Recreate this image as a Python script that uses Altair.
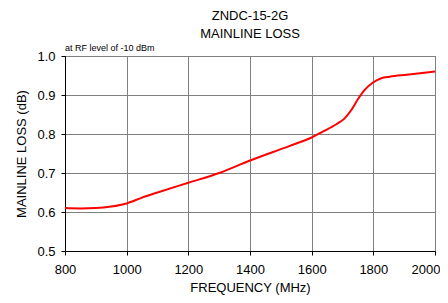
import altair as alt
import pandas as pd

freq = [800, 850, 900, 950, 1000, 1050, 1100, 1200, 1300, 1400, 1527, 1600,
        1636, 1680, 1707, 1728, 1750, 1772, 1799, 1826, 1853, 1908, 2000]
loss = [0.610, 0.609, 0.610, 0.614, 0.622, 0.637, 0.650, 0.675, 0.700, 0.732,
        0.769, 0.791, 0.806, 0.825, 0.840, 0.861, 0.889, 0.913, 0.932, 0.943,
        0.947, 0.952, 0.960]

title_lines = ["ZNDC-15-2G", "MAINLINE LOSS"]
note = "at RF level of -10 dBm"
x_ticks = [800, 1000, 1200, 1400, 1600, 1800, 2000]
y_ticks = [0.5, 0.6, 0.7, 0.8, 0.9, 1.0]

df = pd.DataFrame({"freq": freq, "loss": loss})
FONT = "Liberation Sans"

line = alt.Chart(df).mark_line(color="#ff0000", strokeWidth=2, interpolate="monotone").encode(
    x=alt.X("freq:Q", scale=alt.Scale(domain=[800, 2000], nice=False),
            axis=alt.Axis(values=x_ticks, title="FREQUENCY (MHz)", format="d",
                          labelPadding=8, titlePadding=5, labelFlush=False,
                          labelOverlap=False,
                          labelAlign=alt.ExprRef(expr="datum.value == 2000 ? 'right' : 'center'"),
                          labelOffset=alt.ExprRef(expr="datum.value == 2000 ? 5 : 0"))),
    y=alt.Y("loss:Q", scale=alt.Scale(domain=[0.5, 1.0], nice=False, zero=False),
            axis=alt.Axis(values=y_ticks, title="MAINLINE LOSS (dB)", format=".1f",
                          labelPadding=6, titlePadding=8)),
)

label = alt.Chart(pd.DataFrame({"t": [note]})).mark_text(
    align="left", baseline="bottom", fontSize=9, font=FONT, color="#000"
).encode(x=alt.value(0), y=alt.value(-3), text="t:N")

chart = alt.layer(line, label).properties(
    width=370, height=195,
    title=alt.TitleParams(text=title_lines, anchor="middle", fontSize=13, font=FONT,
                          fontWeight="normal", color="#000", offset=3, lineHeight=18),
    autosize=alt.AutoSizeParams(type="none"),
    padding={"left": 57, "top": 48, "right": 5, "bottom": 44},
).configure_view(stroke="#333", strokeWidth=1).configure_axis(
    gridColor="#808080", gridWidth=1, domainColor="#000", tickColor="#000",
    tickSize=4, labelFont=FONT, titleFont=FONT, labelFontSize=13, titleFontSize=13,
    titleFontWeight="normal", labelColor="#000", titleColor="#000",
)

chart.save("out.html", embed_options={"renderer": "svg", "actions": False})
